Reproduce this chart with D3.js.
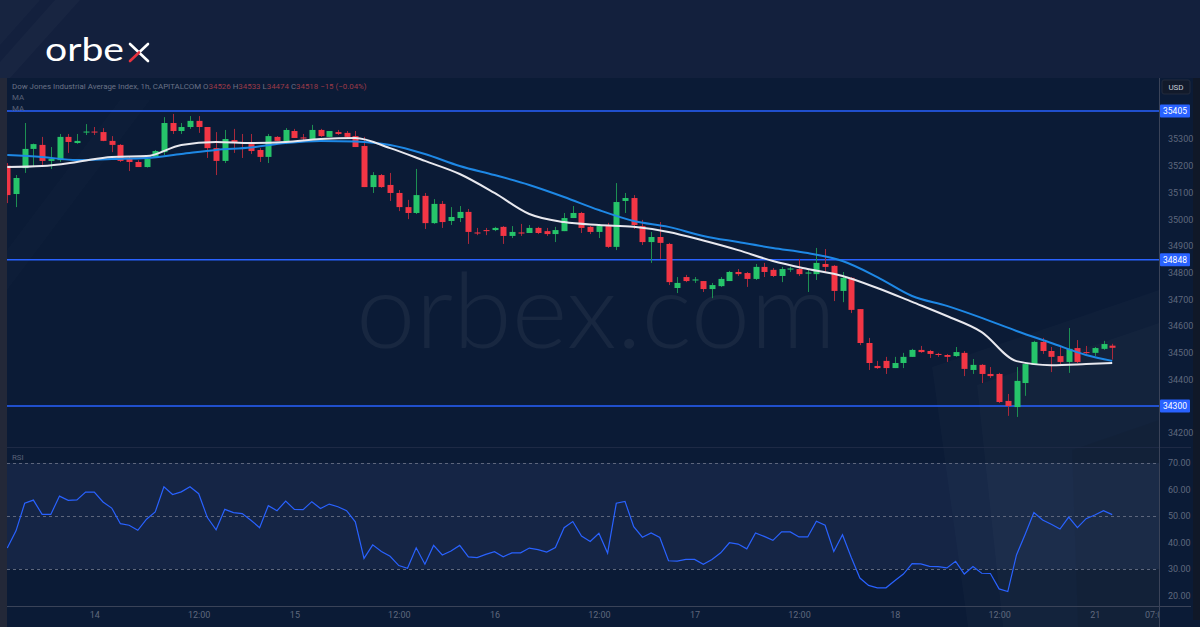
<!DOCTYPE html>
<html><head><meta charset="utf-8">
<script src="https://cdn.jsdelivr.net/npm/d3@7"></script>
<style>html,body{margin:0;padding:0;background:#0b1b36;overflow:hidden}svg{display:block}</style>
</head><body><svg id="c" width="1200" height="627"></svg>
<script>
// ---------- DATA ----------
const opens  = [35200,35094,35191,35263,35278,35218,35221,35308,35285,35325,35328,35326,35293,35278,35225,35214,35195,35229,35251,35360,35330,35345,35368,35345,35266,35218,35296,35289,35281,35259,35233,35308,35289,35330,35306,35300,35334,35308,35326,35323,35311,35274,35120,35165,35128,35098,35045,35023,35087,34985,35057,34993,35004,35027,34950,34959,34959,34971,34937,34950,34948,34967,34955,34944,34955,35004,35023,34971,34952,34974,34896,35068,35079,34974,34914,34933,34907,34742,34783,34770,34768,34738,34749,34768,34802,34798,34776,34821,34810,34787,34811,34813,34796,34794,34832,34825,34731,34780,34663,34536,34450,34469,34442,34461,34484,34510,34506,34495,34491,34487,34499,34435,34454,34420,34420,34319,34296,34386,34454,34540,34506,34487,34465,34517,34502,34499,34514,34526];
const highs  = [35210,35165,35360,35283,35308,35270,35319,35319,35319,35356,35345,35341,35311,35281,35233,35221,35233,35259,35382,35394,35360,35386,35386,35345,35326,35334,35338,35319,35319,35266,35319,35311,35341,35338,35319,35353,35338,35330,35334,35330,35330,35308,35176,35169,35173,35109,35072,35188,35098,35075,35068,35045,35049,35038,34967,34967,34971,34974,34974,34982,34978,34971,34967,34971,35023,35049,35027,34974,34982,34986,35135,35098,35090,34997,34952,34989,34911,34783,34791,34783,34768,34761,34783,34806,34813,34802,34832,34836,34817,34821,34821,34851,34810,34892,34888,34828,34802,34783,34663,34555,34469,34484,34484,34499,34514,34525,34510,34499,34495,34521,34506,34476,34457,34446,34424,34345,34446,34461,34544,34555,34521,34521,34592,34547,34525,34521,34544,34533];
const lows   = [35060,35045,35173,35199,35203,35188,35214,35248,35282,35315,35315,35292,35251,35214,35180,35195,35193,35229,35240,35319,35319,35338,35323,35229,35165,35210,35248,35229,35244,35214,35210,35293,35281,35304,35296,35300,35308,35308,35315,35300,35270,35120,35098,35117,35068,35030,35000,35019,34963,34982,34967,34978,34989,34907,34940,34940,34955,34907,34929,34937,34948,34944,34937,34914,34955,35004,34948,34944,34929,34892,34884,35023,34963,34903,34836,34851,34753,34723,34764,34761,34727,34704,34746,34768,34787,34746,34772,34783,34783,34764,34802,34787,34727,34772,34802,34693,34689,34648,34528,34435,34439,34420,34442,34442,34484,34499,34480,34484,34465,34484,34412,34420,34386,34405,34311,34263,34259,34338,34454,34495,34427,34457,34424,34461,34495,34487,34510,34474];
const closes = [35090,35154,35263,35281,35218,35225,35308,35289,35293,35328,35325,35293,35278,35218,35214,35195,35225,35255,35360,35330,35345,35368,35345,35266,35218,35300,35289,35285,35255,35233,35311,35293,35334,35304,35302,35334,35311,35330,35319,35308,35270,35120,35165,35120,35098,35045,35023,35090,34985,35057,34989,35008,35027,34952,34946,34955,34967,34937,34952,34946,34967,34948,34944,34959,35004,35023,34967,34952,34974,34896,35064,35079,34978,34914,34933,34911,34764,34761,34768,34774,34738,34753,34776,34802,34794,34776,34821,34802,34787,34813,34815,34794,34800,34836,34821,34731,34780,34660,34536,34461,34442,34442,34461,34484,34510,34502,34495,34491,34484,34502,34439,34454,34420,34412,34315,34300,34394,34457,34540,34506,34484,34465,34514,34465,34499,34517,34532,34518];

// moving averages read at every 4th bar
const maIdx  = [0,4,8,12,16,20,24,28,32,36,40,44,48,52,56,60,64,68,72,76,80,84,88,92,96,100,104,108,112,116,120,124,127];
const maFast = [35195,35199,35214,35233,35236,35278,35289,35285,35289,35300,35304,35266,35218,35169,35098,35019,34989,34978,34971,34952,34920,34884,34843,34813,34787,34742,34690,34637,34577,34468,34453,34457,34461];
const maSlow = [35240,35233,35221,35225,35229,35244,35259,35268,35285,35293,35291,35278,35244,35199,35165,35128,35083,35034,34993,34971,34937,34914,34892,34873,34843,34783,34712,34675,34630,34581,34536,34491,34469];

const rsi = [37.9,44.4,54.8,56.0,50.6,50.6,57.5,55.9,56.1,59.0,59.0,55.3,53.0,47.1,46.5,44.6,48.8,51.5,61.0,58.1,59.1,61.0,58.4,49.4,44.8,52.5,51.3,50.9,48.4,45.6,53.9,52.0,55.6,52.5,52.4,55.4,52.8,54.5,53.5,52.0,47.8,34.0,39.1,36.6,34.8,31.3,30.3,38.0,31.8,38.9,35.3,36.8,38.9,34.6,34.3,35.5,36.5,34.6,36.1,36.1,37.9,37.3,36.4,38.1,45.6,47.9,42.4,40.4,43.5,36.0,54.8,55.5,46.0,42.0,43.6,41.9,33.1,33.0,33.6,33.6,31.8,33.6,36.1,39.9,39.4,37.6,43.6,42.3,40.8,44.0,44.0,42.1,42.1,48.0,46.5,36.6,42.9,34.4,26.6,23.8,22.9,22.9,25.6,28.1,32.0,31.9,31.0,30.9,30.4,32.9,28.1,30.9,28.4,28.3,22.5,21.5,35.3,43.1,51.3,48.5,46.9,45.1,49.6,45.6,49.0,50.4,52.0,50.5];

const priceTicks = [35300,35200,35100,35000,34900,34800,34700,34600,34500,34400,34200];
const levelLines = [35405,34848,34300];
const rsiTicks = [70,60,50,40,30,20];
const rsiGuides = [70,50,30];
const timeTickIdx = [10,22,33,45,56,68,79,91,102,114,125,132];
const timeTickLabels = ["14","12:00","15","12:00","16","12:00","17","12:00","18","12:00","21","07:00"];

// ---------- LAYOUT ----------
const W = 1200, H = 627;
const L = 7, R = 1159, axR = 1191;
const pTop = 78, pBot = 447, rTop = 447, rBot = 606;
const svg = d3.select('#c');
const FONT = "Roboto, 'Liberation Sans', sans-serif";

const x = d3.scaleLinear().domain([0, 127]).range([7.3, 1112.2]);
const y = d3.scaleLinear().domain([34146.4, 35528.6]).range([pBot, pTop]);
const yr = d3.scaleLinear().domain([16.04, 74.9]).range([rBot, rTop + 3]);

// backgrounds
svg.append('rect').attr('width', W).attr('height', H).attr('fill', '#0b1b36');
svg.append('rect').attr('width', W).attr('height', pTop).attr('fill', '#13203d');
svg.append('path').attr('d', 'M55,0 L80,0 L10,78 L0,78 L0,62 Z').attr('fill', '#fff').attr('opacity', 0.025);
svg.append('path').attr('d', 'M0,0 L40,0 L0,45 Z').attr('fill', '#fff').attr('opacity', 0.02);
svg.append('rect').attr('x', 0).attr('y', pTop).attr('width', L).attr('height', H - pTop).attr('fill', '#232838');
svg.append('rect').attr('x', 1193).attr('y', pTop).attr('width', 7).attr('height', 542).attr('fill', '#101828');

// decorative light shapes
const deco = svg.append('g');
deco.append('path').attr('d', 'M932,367 L1159,290 L1159,627 L968,627 Z').attr('fill', '#fff').attr('opacity', 0.02);
deco.append('path').attr('d', 'M977,385 L1159,323 L1159,627 L1003,627 Z').attr('fill', '#fff').attr('opacity', 0.02);
deco.append('path').attr('d', 'M1072,450 L1159,420 L1159,627 L1078,627 Z').attr('fill', '#000').attr('opacity', 0.05);
deco.append('path').attr('d', 'M7,250 L120,100 L150,100 L7,290 Z').attr('fill', '#fff').attr('opacity', 0.012);

// watermark
svg.append('text').attr('x', 356).attr('y', 348).attr('textLength', 480).attr('lengthAdjust', 'spacingAndGlyphs')
  .attr('font-family', "Lato, 'Open Sans', sans-serif").attr('font-weight', 300).attr('font-size', 104)
  .attr('fill', '#ffffff').attr('opacity', 0.05).text('orbex.com');

// logo
const logo = svg.append('g');
logo.append('text').attr('x', 45).attr('y', 61).attr('textLength', 79).attr('lengthAdjust', 'spacingAndGlyphs')
  .attr('font-family', "Lato, 'Open Sans', sans-serif").attr('font-size', 32).attr('fill', '#ffffff').text('orbe');
logo.append('line').attr('x1', 130).attr('y1', 44).attr('x2', 148).attr('y2', 61).attr('stroke', '#fff').attr('stroke-width', 2.6).attr('stroke-linecap', 'round');
logo.append('line').attr('x1', 148).attr('y1', 44).attr('x2', 139).attr('y2', 52.5).attr('stroke', '#fff').attr('stroke-width', 2.6).attr('stroke-linecap', 'round');
logo.append('line').attr('x1', 139).attr('y1', 52.5).attr('x2', 130).attr('y2', 61).attr('stroke', '#e8323f').attr('stroke-width', 2.6).attr('stroke-linecap', 'round');

// RSI band
svg.append('rect').attr('x', L).attr('y', yr(70)).attr('width', R - L).attr('height', yr(30) - yr(70)).attr('fill', '#8fa8ff').attr('opacity', 0.08);
svg.selectAll('.rg').data(rsiGuides).enter().append('line')
  .attr('x1', L).attr('x2', R).attr('y1', d => Math.round(yr(d)) + 0.5).attr('y2', d => Math.round(yr(d)) + 0.5)
  .attr('stroke', '#5d667c').attr('stroke-dasharray', '3,3').attr('stroke-width', 1);

// separators
svg.append('line').attr('x1', L).attr('x2', axR).attr('y1', pBot + 0.5).attr('y2', pBot + 0.5).attr('stroke', '#1e2a45');
svg.append('line').attr('x1', L).attr('x2', axR).attr('y1', rBot + 0.5).attr('y2', rBot + 0.5).attr('stroke', '#3a4358');
svg.append('line').attr('x1', R + 0.5).attr('x2', R + 0.5).attr('y1', pTop).attr('y2', H).attr('stroke', '#3a4358');

// clip
const defs = svg.append('defs');
defs.append('clipPath').attr('id', 'pc').append('rect').attr('x', L).attr('y', pTop).attr('width', R - L).attr('height', pBot - pTop);
defs.append('clipPath').attr('id', 'rc').append('rect').attr('x', L).attr('y', rTop).attr('width', R - L).attr('height', rBot - rTop);
defs.append('clipPath').attr('id', 'tc').append('rect').attr('x', L).attr('y', rBot).attr('width', R - L).attr('height', H - rBot);

// level lines
svg.selectAll('.lv').data(levelLines).enter().append('line')
  .attr('x1', L).attr('x2', R).attr('y1', d => y(d)).attr('y2', d => y(d))
  .attr('stroke', '#2962ff').attr('stroke-width', 1.6);

// candles
const bars = closes.map((c, i) => ({i, o: opens[i], h: highs[i], l: lows[i], c}));
const cg = svg.append('g').attr('clip-path', 'url(#pc)');
const up = '#26c46a', dn = '#f23645', upW = '#1d8f52', dnW = '#a8293b';
cg.selectAll('.wk').data(bars).enter().append('line')
  .attr('x1', d => Math.round(x(d.i)) + 0.5).attr('x2', d => Math.round(x(d.i)) + 0.5)
  .attr('y1', d => y(d.h)).attr('y2', d => y(d.l))
  .attr('stroke', d => d.c >= d.o ? upW : dnW).attr('stroke-width', 1);
cg.selectAll('.bd').data(bars).enter().append('rect')
  .attr('x', d => Math.round(x(d.i)) - 2.5).attr('width', 6)
  .attr('y', d => y(Math.max(d.o, d.c)))
  .attr('height', d => Math.max(1, Math.abs(y(d.o) - y(d.c))))
  .attr('fill', d => d.c >= d.o ? up : dn);

// moving averages
const maLine = vals => d3.line().x((d, k) => x(maIdx[k])).y(d => y(d)).curve(d3.curveMonotoneX)(vals);
cg.append('path').attr('d', maLine(maSlow)).attr('fill', 'none').attr('stroke', '#1e88e5').attr('stroke-width', 2);
cg.append('path').attr('d', maLine(maFast)).attr('fill', 'none').attr('stroke', '#e8e8ee').attr('stroke-width', 2);

// RSI line
svg.append('g').attr('clip-path', 'url(#rc)').append('path')
  .attr('d', d3.line().x((d, i) => x(i)).y(d => yr(d))(rsi))
  .attr('fill', 'none').attr('stroke', '#2962ff').attr('stroke-width', 1.2);

// axes
const styleAxis = g => {
  g.select('.domain').remove();
  g.selectAll('line').remove();
  g.selectAll('text').attr('fill', '#5f687d').attr('font-size', 9).attr('font-family', FONT);
};
svg.append('g').attr('transform', `translate(${R + 6},0)`)
  .call(d3.axisRight(y).tickValues(priceTicks).tickSize(0).tickFormat(d3.format('d')))
  .call(styleAxis);
svg.append('g').attr('transform', `translate(${R + 6},0)`)
  .call(d3.axisRight(yr).tickValues(rsiTicks).tickSize(0).tickFormat(d3.format('.2f')))
  .call(styleAxis);
svg.append('g').attr('clip-path', 'url(#tc)').append('g').attr('transform', `translate(0,${rBot + 3})`)
  .call(d3.axisBottom(x).tickValues(timeTickIdx).tickSize(0).tickFormat((d, k) => timeTickLabels[k]))
  .call(styleAxis);

// level labels
const lb = svg.selectAll('.lb').data(levelLines).enter().append('g').attr('transform', d => `translate(${R + 1},${y(d)})`);
lb.append('rect').attr('x', 0).attr('y', -6.5).attr('width', 30).attr('height', 13).attr('rx', 1).attr('fill', '#2962ff');
lb.append('text').attr('x', 15).attr('y', 3).attr('text-anchor', 'middle').attr('fill', '#fff').attr('font-size', 8.5)
  .attr('font-family', FONT).text(d => d3.format('d')(d));

// USD box
svg.append('rect').attr('x', 1162).attr('y', 80).attr('width', 28).attr('height', 14).attr('rx', 2).attr('fill', '#121a2b').attr('stroke', '#222b3d');
svg.append('text').attr('x', 1176).attr('y', 90).attr('text-anchor', 'middle').attr('fill', '#c7cbd6').attr('font-size', 8).attr('font-family', FONT).text('USD');

// legend texts
const lg = svg.append('text').attr('x', 12).attr('y', 89).attr('font-size', 7.9).attr('font-family', FONT).attr('fill', '#6a7286');
lg.append('tspan').text('Dow Jones Industrial Average Index, 1h, CAPITALCOM  O');
lg.append('tspan').attr('fill', '#9c3a48').text('34526');
lg.append('tspan').text('  H');
lg.append('tspan').attr('fill', '#9c3a48').text('34533');
lg.append('tspan').text('  L');
lg.append('tspan').attr('fill', '#9c3a48').text('34474');
lg.append('tspan').text('  C');
lg.append('tspan').attr('fill', '#9c3a48').text('34518  −15 (−0.04%)');
svg.append('text').attr('x', 12).attr('y', 100).attr('font-size', 7.9).attr('font-family', FONT).attr('fill', '#5a6276').text('MA');
svg.append('text').attr('x', 12).attr('y', 111).attr('font-size', 7.9).attr('font-family', FONT).attr('fill', '#5a6276').text('MA');
svg.append('text').attr('x', 12).attr('y', 460).attr('font-size', 7.9).attr('font-family', FONT).attr('fill', '#5a6276').text('RSI');
</script>
</body></html>
